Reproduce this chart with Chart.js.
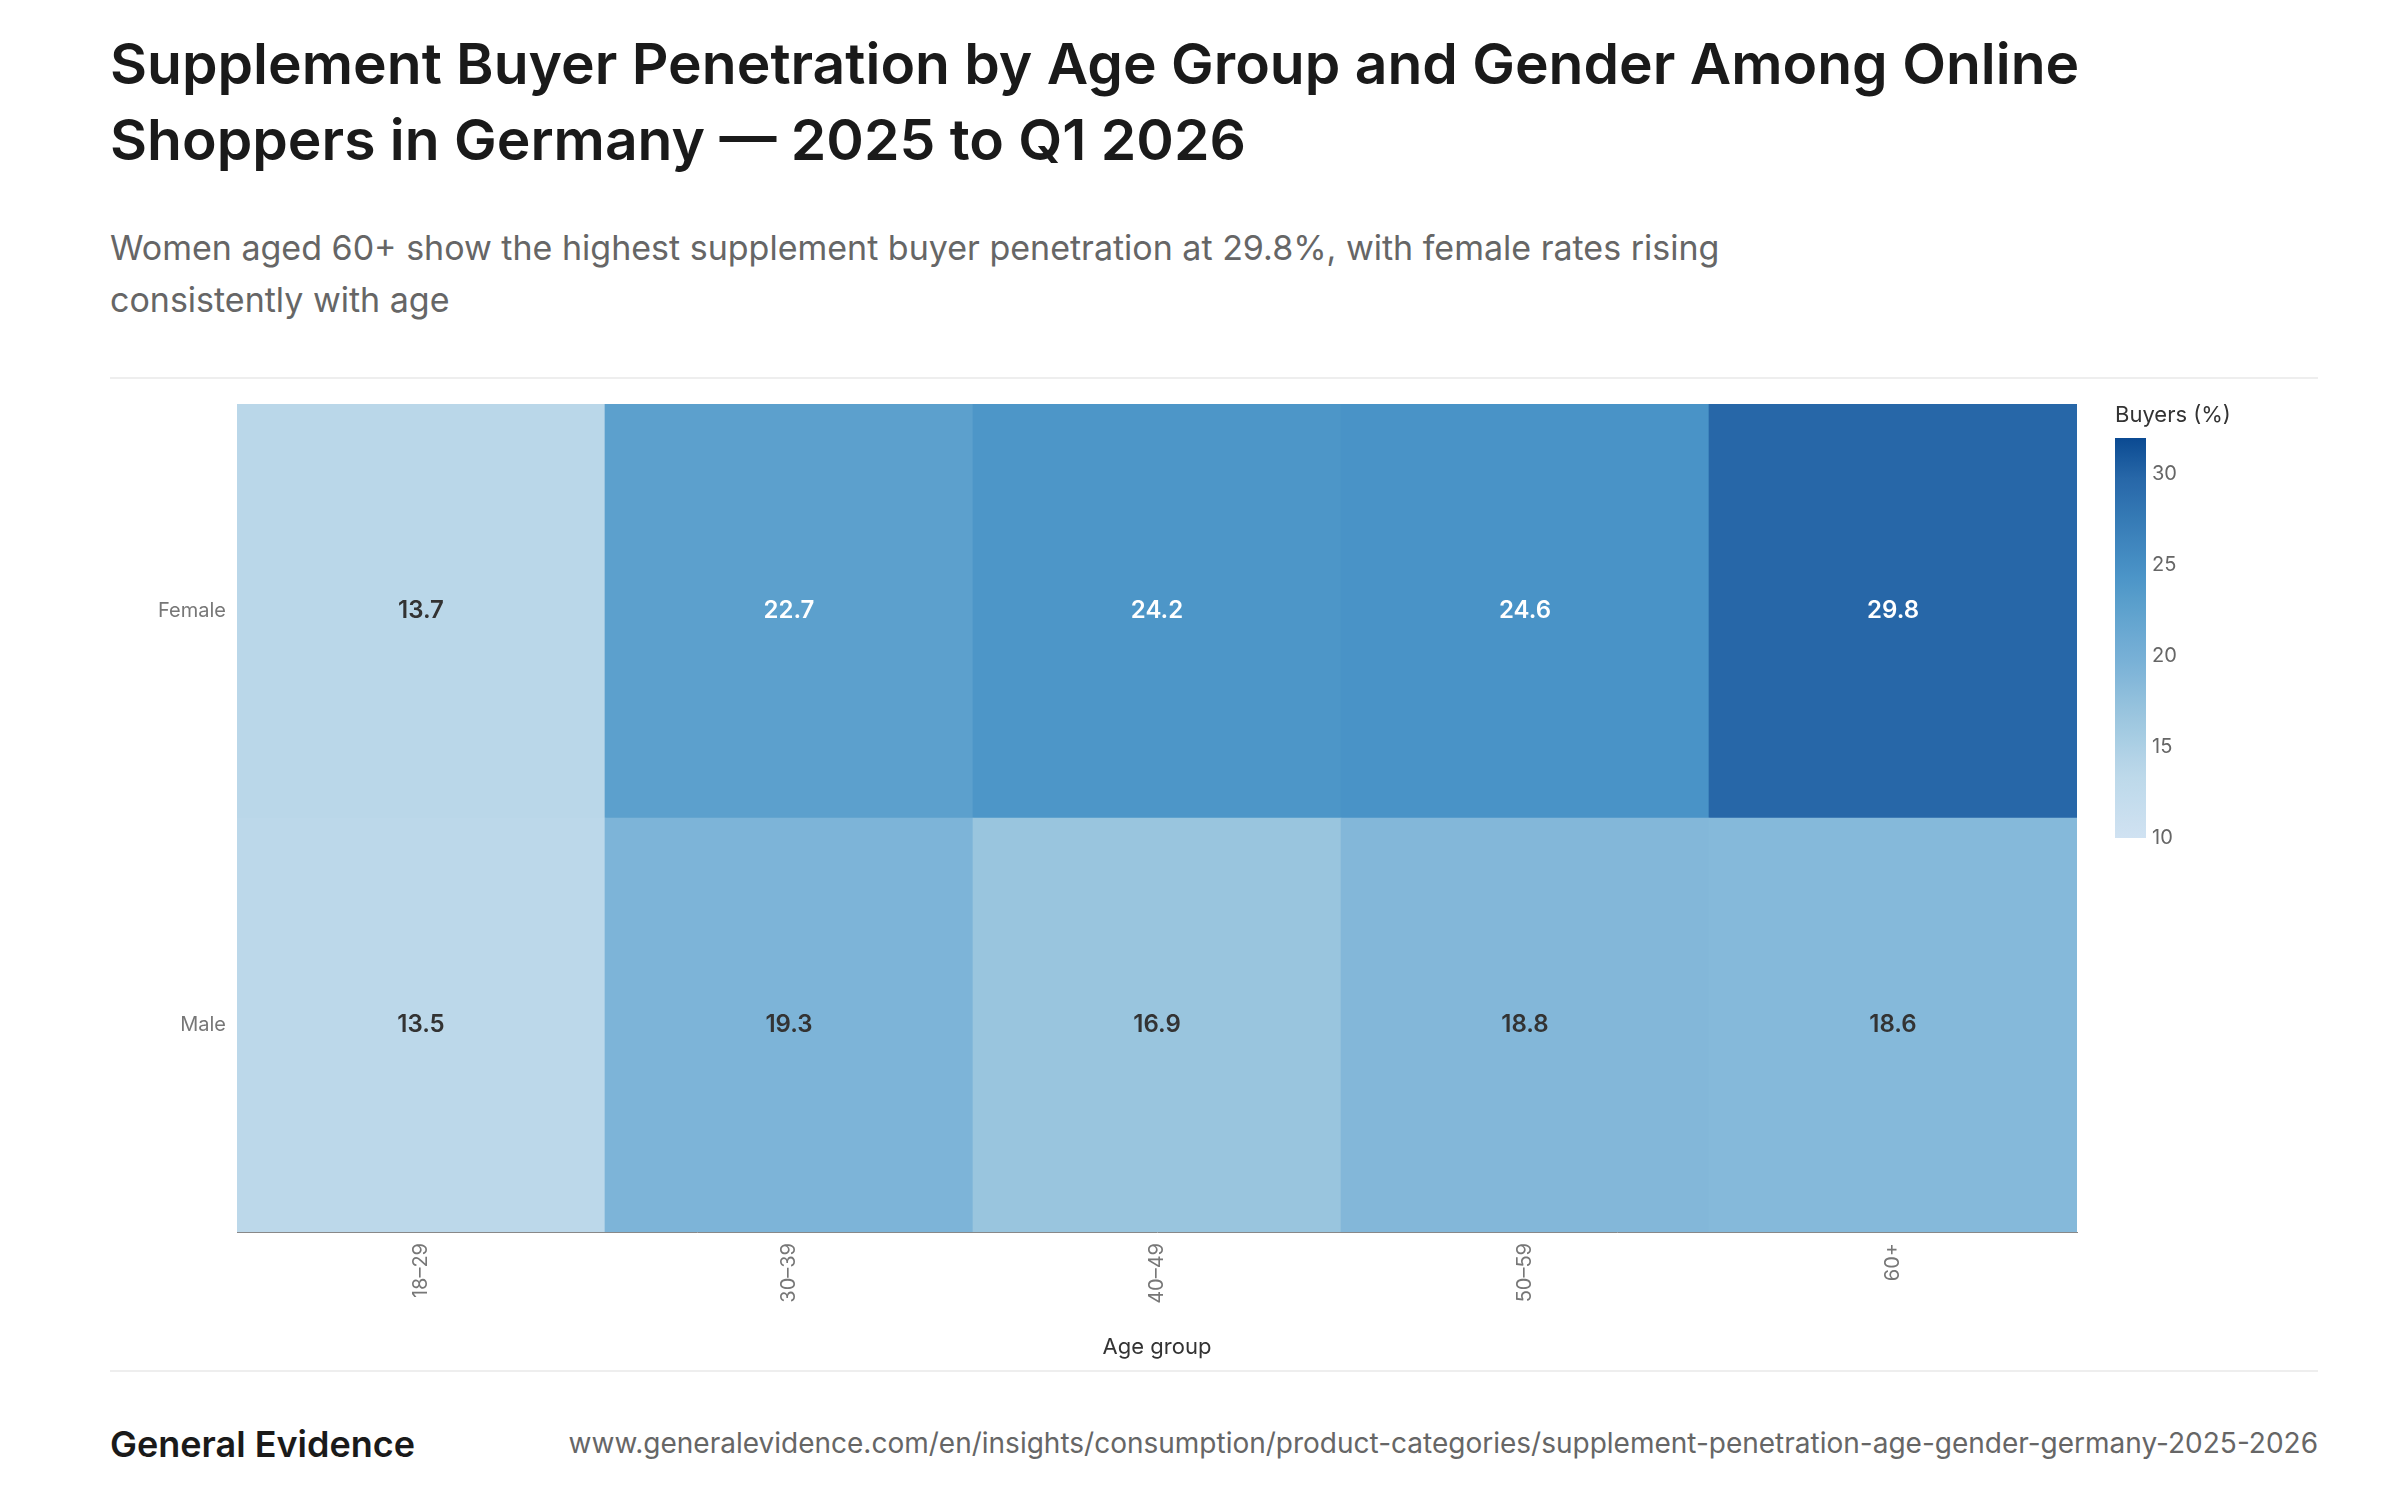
<!DOCTYPE html>
<html><head><meta charset="utf-8">
<script src="https://cdn.jsdelivr.net/npm/chart.js@4"></script>
<style>
body{margin:0;width:2400px;height:1500px;background:#fff;font-family:Inter,"Noto Sans",sans-serif;position:relative;overflow:hidden}
#title{position:absolute;left:110px;top:26px;width:2200px;font-size:57px;font-weight:600;line-height:76px;color:#1a1a1a}
#sub{position:absolute;left:110px;top:222px;width:1650px;font-size:34px;line-height:52px;color:#666}
.hr{position:absolute;left:110px;width:2208px;height:2px;background:#eee}
#brand{position:absolute;left:110px;top:1422px;font-size:36px;font-weight:600;color:#1a1a1a}
#url{position:absolute;right:82px;top:1426px;font-size:28px;color:#666}
canvas{position:absolute;left:0;top:0}
</style></head><body>
<div id="title">Supplement Buyer Penetration by Age Group and Gender Among Online Shoppers in Germany — 2025 to Q1 2026</div>
<div id="sub">Women aged 60+ show the highest supplement buyer penetration at 29.8%, with female rates rising consistently with age</div>
<div class="hr" style="top:377px"></div>
<div class="hr" style="top:1370px"></div>
<div id="brand">General Evidence</div>
<div id="url">www.generalevidence.com/en/insights/consumption/product-categories/supplement-penetration-age-gender-germany-2025-2026</div>
<canvas id="c" width="2400" height="1500"></canvas>
<script>
const ageGroups=["18–29","30–39","40–49","50–59","60+"];
const genders=["Male","Female"];
const female=[13.7,22.7,24.2,24.6,29.8];
const male=[13.5,19.3,16.9,18.8,18.6];
const colorbarTicks=[10,15,20,25,30];
const cMin=10,cMax=32;
const stops=[[10,[208,226,242]],[13.5,[188,216,234]],[17,[152,196,222]],[19.3,[125,180,216]],[22.7,[92,160,205]],[24.6,[73,147,199]],[29.8,[39,103,168]],[32,[11,74,146]]];
function col(v){for(let i=0;i<stops.length-1;i++){const[a,ca]=stops[i],[b,cb]=stops[i+1];if(v<=b){const t=Math.max(0,(v-a)/(b-a));return `rgb(${ca.map((x,j)=>Math.round(x+(cb[j]-x)*t)).join(',')})`;}}return 'rgb(11,74,146)';}
const vals=[male,female];
const labelPlugin={id:'lbl',afterDatasetsDraw(ch){const ctx=ch.ctx;ctx.save();ctx.font='600 24px Inter';ctx.textAlign='center';ctx.textBaseline='middle';
ch.data.datasets.forEach((ds,di)=>{ch.getDatasetMeta(di).data.forEach((b,i)=>{const v=vals[di][i];ctx.fillStyle=v>20?'#fff':'#333';ctx.fillText(v.toFixed(1),b.x,(b.y+b.base)/2);});});
// colorbar
const x0=2115,w=31,y0=438,y1=838;const g=ctx.createLinearGradient(0,y1,0,y0);
for(let k=0;k<=20;k++){const v=cMin+(cMax-cMin)*k/20;g.addColorStop(k/20,col(v));}
ctx.fillStyle=g;ctx.fillRect(x0,y0,w,y1-y0);
ctx.font='20px Inter';ctx.fillStyle='#666';ctx.textAlign='left';
colorbarTicks.forEach(t=>{const y=y1-(t-cMin)/(cMax-cMin)*(y1-y0);ctx.fillText(String(t),x0+w+6,y);});
ctx.font='22px Inter';ctx.fillStyle='#333';ctx.fillText('Buyers (%)',2115,415);
ctx.restore();}};
new Chart(document.getElementById('c'),{type:'bar',
data:{labels:ageGroups,datasets:genders.map((g,di)=>({label:g,data:ageGroups.map(()=>1),backgroundColor:vals[di].map(col),borderWidth:0,barPercentage:1,categoryPercentage:1}))},
options:{responsive:false,animation:false,layout:{padding:{top:404,right:323,bottom:135,left:0}},
plugins:{legend:{display:false},tooltip:{enabled:false}},
scales:{x:{stacked:true,grid:{display:false},border:{color:'#888'},ticks:{color:'#777',font:{size:20,family:'Inter'},maxRotation:90,minRotation:90},title:{display:true,text:'Age group',color:'#333',font:{size:22,family:'Inter'}},afterFit:s=>{s.height=133}},
y:{stacked:true,min:0,max:2,grid:{display:false},border:{color:'#888'},afterFit:s=>{s.width=237},
afterBuildTicks:s=>{s.ticks=[{value:0.5},{value:1.5}]},
ticks:{color:'#777',font:{size:20,family:'Inter'},callback:v=>v===1.5?'Female':v===0.5?'Male':''}}}},
plugins:[labelPlugin]});
</script></body></html>
